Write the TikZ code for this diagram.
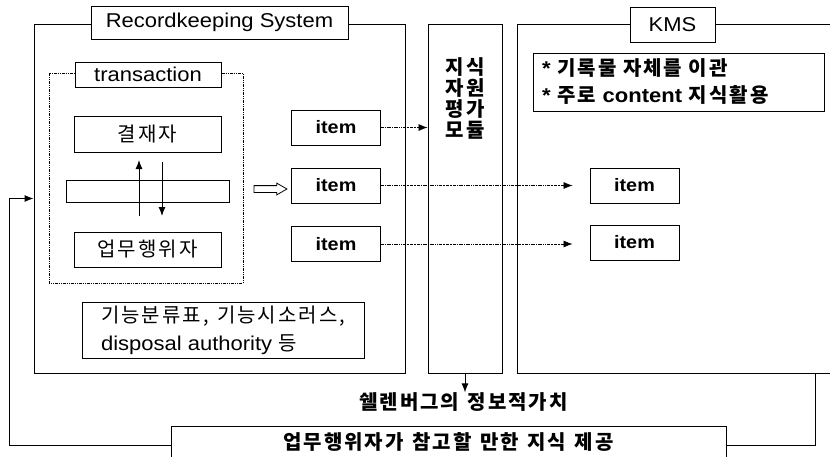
\documentclass[tikz,border=0pt]{standalone}
\usepackage{fontspec}
\setmainfont{Liberation Sans}[FakeStretch=1.1]
\newfontfamily\kr{Noto Sans CJK KR}[LetterSpace=10,WordSpace=1.3]
\usetikzlibrary{arrows.meta,shapes.arrows}
\newcommand{\lw}{1pt}
\newcommand{\fs}{\fontsize{20}{23}\selectfont}

\begin{document}
\begin{tikzpicture}[x=1pt,y=-1pt,
    frame/.style={draw, line width=\lw, inner sep=0pt},
    box/.style={draw, fill=white, line width=\lw, inner sep=0pt, font=\fs},
    itembox/.style={box, minimum width=89pt, minimum height=35pt, font=\fontsize{18}{21}\selectfont\bfseries},
    flow/.style={line width=0.6pt, densely dash dot dot, -{Latex[length=9pt,width=7pt]}},
    arr/.style={line width=\lw, -{Latex[length=9pt,width=7pt]}}]
    %\draw[help lines] (0,0) grid[step=50] (830,456);
    \useasboundingbox (0,0) rectangle (830,456);

    % Recordkeeping system
    \node[frame, minimum width=371pt, minimum height=349pt] (rks) at (219.5,198.5) {};
    \node[box, minimum width=257pt, minimum height=33pt] (rkstitle) at (219.5,22.5) {Recordkeeping System};
    \draw[line width=\lw, densely dash dot dot] (49,73) rectangle (243,283);
    \node[box, minimum width=146pt, minimum height=25pt] (trans) at (148,74.5) {transaction};
    \node[box, minimum width=147pt, minimum height=36pt] (appr) at (147.5,134) {\kr 결재자};
    \node[box, minimum width=163pt, minimum height=22pt] (doc) at (147.5,191) {};
    \node[box, minimum width=147pt, minimum height=35pt] (actor) at (147.5,249.5) {\kr 업무행위자};
    \coordinate (up1) at (139,216);
    \coordinate (up2) at (139,160);
    \coordinate (dn1) at (162,162);
    \coordinate (dn2) at (162,216);
    \draw[arr] (up1) -- (up2);
    \draw[arr] (dn1) -- (dn2);
    \node[draw, line width=0.8pt, single arrow, single arrow head extend=2.5pt,
          single arrow tip angle=60, minimum height=33pt,
          inner xsep=0pt, inner ysep=3pt] (out) at (267.5,189) {};
    \node[itembox] (i1) at (336,127.5) {item};
    \node[itembox] (i2) at (336,185.5) {item};
    \node[itembox] (i3) at (336,244) {item};
    \node[box, minimum width=282pt, minimum height=56pt, align=left,
          font=\fontsize{20}{28}\selectfont] (tools) at (223,330)
          {{\kr 기능분류표, 기능시소러스,}\\disposal authority {\kr 등}};

    % evaluation module
    \node[frame, minimum width=74pt, minimum height=349pt] (mod) at (465,198.5) {};
    \node[align=center, inner sep=0pt, font=\kr\fontsize{20}{21}\selectfont\bfseries] (modtxt) at (465,98.5)
          {지식\\자원\\평가\\모듈};

    % KMS
    \draw[line width=\lw] (830,24) -| (517,373) -- (830,373);
    \node[box, minimum width=85pt, minimum height=35pt] (kmstitle) at (672.5,24.5) {KMS};
    \node[box, text width=273pt, inner xsep=9pt, minimum height=58pt, align=left,
          font=\fontsize{20}{27}\selectfont\bfseries] (note) at (678.5,82)
          {{*} {\kr 기록물 자체를 이관}\\{*} {\kr 주로} content {\kr 지식활용}};
    \node[itembox] (k1) at (634.5,185.5) {item};
    \node[itembox] (k2) at (634.5,242.5) {item};

    \draw[flow] (i1.east) -- (i1.east -| mod.west);
    \draw[flow, shorten >=17pt] (i2.east) -- (k1.west);
    \draw[flow, shorten >=17pt] (i3.east) -- (i3.east -| k2.west);

    % bottom
    \node[inner sep=0pt, font=\kr\fontsize{20}{21}\selectfont\bfseries] (val) at (463.5,402) {쉘렌버그의 정보적가치};
    \draw[arr] (mod.south) -- (mod.south |- val.north);
    \node[box, minimum width=555pt, minimum height=32pt, font=\kr\fontsize{20}{21}\selectfont\bfseries] (prov) at (448.5,442)
          {업무행위자가 참고할 만한 지식 제공};
    \coordinate (kb) at (815,373);
    \coordinate (lb) at (9,445);
    \draw[line width=\lw] (kb) |- ([yshift=-3pt]prov.east);
    \draw[arr] ([yshift=-3pt]prov.west) -- (lb) |- (rks.west);
\end{tikzpicture}
\end{document}
